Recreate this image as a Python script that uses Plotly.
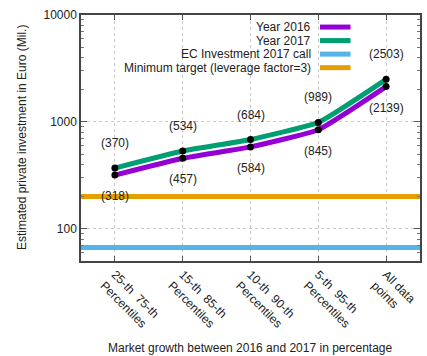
import math
import plotly.graph_objects as go

# Data
categories = ["25-th  75-th<br>Percentiles", "15-th  85-th<br>Percentiles",
              "10-th  90-th<br>Percentiles", "5-th  95-th<br>Percentiles",
              "All data<br>points"]
year_2016 = [318, 457, 584, 845, 2139]
year_2017 = [370, 534, 684, 989, 2503]
ec_investment_2017 = 67
minimum_target = 201
y_ticks = [100, 1000, 10000]
y_minor_ticks = [m * 10 ** e for e in (1, 2, 3) for m in range(2, 10)]
legend_names = ["Year 2016", "Year 2017", "EC Investment 2017 call",
                "Minimum target (leverage factor=3)"]
x_title = "Market growth between 2016 and 2017 in percentage"
y_title = "Estimated private investment in Euro (Mil.)"

PURPLE = "#9400d3"
GREEN = "#009e73"
BLUE = "#56b4e9"
ORANGE = "#e69f00"
FONT = "Liberation Sans, Arial, sans-serif"
TEXT = dict(size=12, color="#222", family=FONT)

x = list(range(len(categories)))

fig = go.Figure()

# Horizontal reference levels spanning the full x range
fig.add_trace(go.Scatter(x=[-0.5, len(x) - 0.5], y=[ec_investment_2017] * 2,
                         mode="lines", line=dict(color=BLUE, width=5),
                         hoverinfo="skip"))
fig.add_trace(go.Scatter(x=[-0.5, len(x) - 0.5], y=[minimum_target] * 2,
                         mode="lines", line=dict(color=ORANGE, width=5),
                         hoverinfo="skip"))

for vals, col in [(year_2016, PURPLE), (year_2017, GREEN)]:
    fig.add_trace(go.Scatter(x=x, y=vals, mode="lines",
                             line=dict(color=col, width=5, shape="spline", smoothing=0.4)))
    fig.add_trace(go.Scatter(x=x, y=vals, mode="markers",
                             marker=dict(color="black", size=7)))

# Value labels: 2017 above, 2016 below (log axis -> annotation y in log10 units)
for xi, v in zip(x, year_2017):
    fig.add_annotation(x=xi, y=math.log10(v), text=f"({v})", showarrow=False,
                       yshift=25, font=TEXT)
for xi, v in zip(x, year_2016):
    fig.add_annotation(x=xi, y=math.log10(v), text=f"({v})", showarrow=False,
                       yshift=-21, font=TEXT)

# Key in the upper right corner: right-aligned text with line samples
legend_colors = [PURPLE, GREEN, BLUE, ORANGE]
key_top = 0.951
key_step = 0.055
for i, (name, col) in enumerate(zip(legend_names, legend_colors)):
    yy = key_top - i * key_step
    fig.add_annotation(x=0.685, y=yy, xref="paper", yref="paper", text=name,
                       showarrow=False, xanchor="right", yanchor="middle",
                       font=TEXT)
    fig.add_shape(type="line", xref="paper", yref="paper",
                  x0=0.705, x1=0.795, y0=yy, y1=yy,
                  line=dict(color=col, width=5))

# Axis titles
fig.add_annotation(x=0.5, y=-0.354, xref="paper", yref="paper", text=x_title,
                   showarrow=False, xanchor="center", yanchor="middle", font=TEXT)
fig.add_annotation(x=-0.174, y=0.5, xref="paper", yref="paper", text=y_title,
                   showarrow=False, textangle=-90, xanchor="center",
                   yanchor="middle", font=TEXT)

fig.update_layout(
    width=427, height=356,
    margin=dict(l=81, r=7, t=15, b=95),
    paper_bgcolor="white", plot_bgcolor="white",
    showlegend=False,
    font=dict(family=FONT, size=12, color="#222"),
    xaxis=dict(
        range=[-0.5, len(x) - 0.5], automargin=False,
        tickvals=x, ticktext=categories, tickangle=45,
        ticks="inside", ticklen=5, tickcolor="#555",
        showgrid=True, gridcolor="#c8c8c8", griddash="dot", gridwidth=1,
        showline=True, linecolor="#444", linewidth=1.5, mirror="ticks",
        zeroline=False, tickfont=TEXT,
    ),
    yaxis=dict(
        type="log", range=[1.699, 4], automargin=False,
        tickvals=y_ticks, ticktext=[str(t) for t in y_ticks],
        ticks="inside", ticklen=6, tickcolor="#555",
        minor=dict(tickmode="array", tickvals=y_minor_ticks, ticks="inside",
                   ticklen=3, tickcolor="#777", showgrid=False),
        showgrid=True, gridcolor="#c8c8c8", griddash="dot", gridwidth=1,
        showline=True, linecolor="#444", linewidth=1.5, mirror="ticks",
        zeroline=False, tickfont=TEXT,
    ),
)

fig.write_html("out.html")
